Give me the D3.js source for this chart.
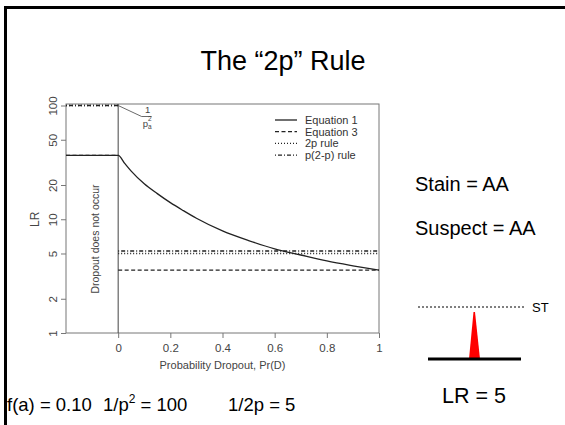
<!DOCTYPE html>
<html lang="en">
<head>
<meta charset="UTF-8">
<title>The 2p Rule</title>
<script src="https://cdnjs.cloudflare.com/ajax/libs/d3/7.8.5/d3.min.js"></script>
<style>
    body { margin: 0; background: #fff; }
    svg text { font-family: "Liberation Sans", Arial, sans-serif; }
</style>
</head>
<body>
<div id="chart"></div>
<script>
    // values
    var xTicks = [0, 0.2, 0.4, 0.6, 0.8, 1];
    var yTicks = [1, 2, 5, 10, 20, 50, 100];
    var dropout = [-0.2, 0, 0.025, 0.05, 0.1, 0.15, 0.2, 0.25, 0.3, 0.4, 0.5, 0.6, 0.7, 0.8, 0.9, 1];
    var lrEq1 = [36.4, 36.4, 31, 26.5, 20.5, 16.8, 14.0, 11.9, 10.2, 7.9, 6.5, 5.5, 4.85, 4.3, 3.9, 3.57];
    var eq3Segments = [[[-0.2, 36.4], [0, 36.4]], [[0, 3.57], [1, 3.57]]];
    var rule2p = [[[-0.2, 100], [0, 100]], [[0, 5.0], [1, 5.0]]];
    var rulePp = [[[-0.2, 100], [0, 100]], [[0, 5.26], [1, 5.26]]];
    var legendLabels = ['Equation 1', 'Equation 3', '2p rule', 'p(2-p) rule'];
    var legendDash = [null, '4,2.5', '1,2', '1,2,4,2'];

    var W = 565, H = 425;
    var svg = d3.select('#chart').append('svg')
        .attr('width', W)
        .attr('height', H);

    svg.append('rect').attr('width', W).attr('height', H).attr('fill', '#fff');

    // slide frame
    svg.append('rect')
        .attr('x', 5.5).attr('y', 7.5)
        .attr('width', 700).attr('height', 600)
        .attr('fill', 'none').attr('stroke', '#000').attr('stroke-width', 3);

    svg.append('text')
        .attr('x', 283).attr('y', 70)
        .attr('text-anchor', 'middle')
        .attr('font-size', 27)
        .text('The \u201C2p\u201D Rule');

    // plot
    var x = d3.scaleLinear().domain([-0.2, 1]).range([66, 379]);
    var y = d3.scaleLog().domain([1, 100]).range([333, 105.5]);
    var grey = '#777';
    var ink = '#222';

    var g = svg.append('g');

    g.append('rect')
        .attr('x', x(-0.2)).attr('y', y(100) - 1.5)
        .attr('width', x(1) - x(-0.2)).attr('height', y(1) - y(100) + 1.5)
        .attr('fill', 'none').attr('stroke', grey).attr('stroke-width', 1);

    var xAxis = g.append('g')
        .attr('transform', 'translate(0,' + y(1) + ')')
        .call(d3.axisBottom(x).tickValues(xTicks).tickSize(5).tickPadding(6)
            .tickFormat(function (d) { return d === 0 || d === 1 ? d3.format('d')(d) : d3.format('.1f')(d); }));
    xAxis.select('.domain').remove();

    var yAxis = g.append('g')
        .attr('transform', 'translate(' + x(-0.2) + ',0)')
        .call(d3.axisLeft(y).tickValues(yTicks).tickSize(5).tickFormat(d3.format('d')));
    yAxis.select('.domain').remove();
    yAxis.selectAll('.tick text')
        .attr('transform', 'rotate(-90)')
        .attr('x', 0).attr('y', -9)
        .attr('dy', 0)
        .attr('text-anchor', 'middle');

    g.selectAll('.tick line').attr('stroke', grey);
    g.selectAll('.tick text')
        .attr('fill', '#444')
        .attr('font-size', 11.5)
        .attr('font-family', '"Liberation Sans", Arial, sans-serif');

    g.append('text')
        .attr('x', (x(-0.2) + x(1)) / 2).attr('y', 369)
        .attr('text-anchor', 'middle')
        .attr('font-size', 11).attr('fill', '#444')
        .text('Probability Dropout, Pr(D)');

    g.append('text')
        .attr('transform', 'translate(39,' + ((y(1) + y(100)) / 2) + ') rotate(-90)')
        .attr('text-anchor', 'middle')
        .attr('font-size', 12).attr('fill', '#444')
        .text('LR');

    // dropout does not occur
    g.append('line')
        .attr('x1', x(0)).attr('x2', x(0))
        .attr('y1', y(1)).attr('y2', y(100) - 1.5)
        .attr('stroke', '#444').attr('stroke-width', 1);

    g.append('text')
        .attr('transform', 'translate(' + (x(-0.1) + 7) + ',' + 239 + ') rotate(-90)')
        .attr('text-anchor', 'middle')
        .attr('font-size', 10.5).attr('fill', '#444')
        .text('Dropout does not occur');

    var line = d3.line()
        .x(function (d) { return x(d[0]); })
        .y(function (d) { return y(d[1]); });

    var eq1 = d3.zip(dropout, lrEq1);
    g.append('path')
        .attr('d', line.curve(d3.curveMonotoneX)(eq1))
        .attr('fill', 'none').attr('stroke', ink).attr('stroke-width', 1.3);

    line.curve(d3.curveLinear);
    function drawSegments(segs, dash) {
        segs.forEach(function (s) {
            g.append('path')
                .attr('d', line(s))
                .attr('fill', 'none').attr('stroke', ink).attr('stroke-width', 1.3)
                .attr('stroke-dasharray', dash);
        });
    }
    drawSegments(eq3Segments, legendDash[1]);
    drawSegments(rule2p, legendDash[2]);
    drawSegments(rulePp, legendDash[3]);

    // 1/p_a^2 annotation
    var ax = x(0.09), ay = 116.5;
    g.append('path')
        .attr('d', 'M' + x(0) + ',' + y(100) + 'L' + ax + ',' + ay + 'H' + (ax + 10))
        .attr('fill', 'none').attr('stroke', '#444').attr('stroke-width', 0.8);
    g.append('text')
        .attr('x', ax + 6).attr('y', 113)
        .attr('text-anchor', 'middle')
        .attr('font-size', 9.5).attr('fill', '#444')
        .text('1');
    var pa = g.append('text')
        .attr('x', ax + 1).attr('y', 126.5)
        .attr('font-size', 9.5).attr('fill', '#444');
    pa.append('tspan').text('p');
    pa.append('tspan').attr('font-size', 6.5).attr('dy', 2).text('a');
    pa.append('tspan').attr('font-size', 6.5).attr('dx', -3.6).attr('dy', -7.5).text('2');

    // legend
    var legend = g.append('g').attr('transform', 'translate(275,120)');
    legendLabels.forEach(function (lab, i) {
        var row = legend.append('g').attr('transform', 'translate(0,' + (i * 11.7) + ')');
        row.append('line')
            .attr('x1', 0).attr('x2', 22)
            .attr('stroke', ink).attr('stroke-width', 1.3)
            .attr('stroke-dasharray', legendDash[i]);
        row.append('text')
            .attr('x', 30).attr('y', 4)
            .attr('font-size', 11).attr('fill', '#333')
            .text(lab);
    });

    // right-hand side of the slide
    svg.append('text').attr('x', 415).attr('y', 191).attr('font-size', 20).text('Stain = AA');
    svg.append('text').attr('x', 415).attr('y', 235).attr('font-size', 20).text('Suspect = AA');

    svg.append('line')
        .attr('x1', 418).attr('x2', 526)
        .attr('y1', 307).attr('y2', 307)
        .attr('stroke', '#000').attr('stroke-width', 1)
        .attr('stroke-dasharray', '2,2');
    svg.append('text').attr('x', 532).attr('y', 312).attr('font-size', 13).text('ST');

    svg.append('path')
        .attr('d', 'M469,359 L473.5,312 L475,312 L480,359 Z')
        .attr('fill', '#f00');
    svg.append('line')
        .attr('x1', 428).attr('x2', 521)
        .attr('y1', 359).attr('y2', 359)
        .attr('stroke', '#000').attr('stroke-width', 3);

    svg.append('text').attr('x', 442).attr('y', 403).attr('font-size', 21.5).text('LR = 5');

    // bottom formula line
    svg.append('text').attr('x', 7).attr('y', 411).attr('font-size', 18.5).text('f(a) = 0.10');
    var t2 = svg.append('text').attr('x', 103).attr('y', 411).attr('font-size', 18.5);
    t2.append('tspan').text('1/p');
    t2.append('tspan').attr('font-size', 12).attr('dy', -8).text('2');
    t2.append('tspan').attr('dy', 8).text(' = 100');
    svg.append('text').attr('x', 228).attr('y', 411).attr('font-size', 18.5).text('1/2p = 5');
</script>
</body>
</html>
